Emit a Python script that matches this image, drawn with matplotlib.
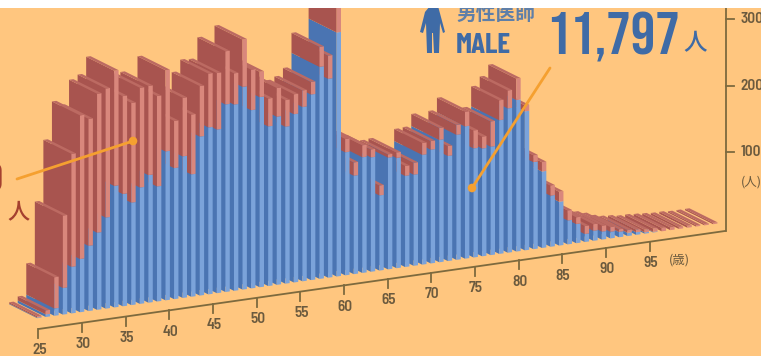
import numpy as np
import matplotlib
matplotlib.use("Agg")
import matplotlib.pyplot as plt
from matplotlib.patches import Rectangle, Circle, Polygon
from matplotlib.transforms import Affine2D

# doctors per single year of age, stacked: male below, male + female on top
ages = list(range(25, 105))
male = [1, 4, 11, 40, 70, 80, 98, 116, 137, 183,
        169, 154, 175, 192, 173, 224, 197, 213, 184, 239,
        251, 246, 282, 280, 305, 268, 286, 240, 253, 236,
        253, 262, 279, 319, 299, 367, 185, 148, 174, 172,
        113, 168, 166, 137, 137, 165, 171, 184, 158, 188,
        199, 164, 162, 163, 201, 217, 228, 209, 131, 115,
        77, 66, 36, 29, 12, 15, 12, 10, 8, 5,
        4, 2, 1, 0, 0, 0, 0, 0, 0, 0]
total = [3, 10, 58, 149, 240, 296, 289, 325, 331, 356,
         316, 304, 325, 326, 309, 346, 268, 301, 274, 315,
         332, 331, 362, 327, 376, 329, 324, 282, 296, 276,
         283, 287, 298, 349, 334, 420, 205, 168, 192, 184,
         128, 173, 174, 152, 155, 183, 184, 202, 173, 203,
         221, 191, 180, 201, 231, 244, 260, 218, 141, 129,
         92, 81, 51, 39, 24, 25, 21, 17, 12, 9,
         8, 6, 6, 5, 4, 3, 3, 2, 2, 2]
age_ticks = [25, 30, 35, 40, 45, 50, 55, 60, 65, 70, 75, 80, 85, 90, 95]
count_ticks = [100, 200, 300]

BG = "#FFC67F"
BLUE_SIDE, BLUE_FRONT = "#4A74B2", "#7BA3DA"
RED_SIDE, RED_FRONT, RED_TOP = "#A8544F", "#D9877C", "#BC6A62"
INK = "#6B5A3E"
AXIS = "#7D6A3E"
MALE_INK = "#3F6BA6"
LEADER = "#F5A030"
NARROW = ["Barlow Condensed", "Roboto", "DejaVu Sans"]
SEMI = ["Barlow Semi Condensed", "Roboto", "DejaVu Sans"]
TALL = ["Bebas Neue", "Roboto", "DejaVu Sans"]
CJK = ["Noto Sans CJK JP", "DejaVu Sans"]

# oblique projection of the slabs, in data units (age, count)
BAR_STEP = 0.98
BAR_W = 0.5
DEPTH_X, DEPTH_Y = -3.21, 21.0
BAR_SLANT = 1.826
AXIS_SLANT = 1.874
AXIS_DROP = -16.5
TICK_LEN = 13.5
WALL_BASE = 103.7
WALL_ZERO = 149.6


def project(pos, val, depth=0.0):
    return pos + depth * DEPTH_X, val + BAR_SLANT * (pos - 25) + depth * DEPTH_Y


def axis_y(pos):
    return AXIS_DROP + AXIS_SLANT * (pos - 25)


def slab(ax, pos, low, high, side, front, top=None):
    l, r = pos - BAR_W / 2, pos + BAR_W / 2
    corners = [project(l, low), project(l, high), project(l, high, 1), project(l, low, 1)]
    ax.fill(*zip(*corners), color=side, lw=0)
    corners = [project(l, low), project(r, low), project(r, high), project(l, high)]
    ax.fill(*zip(*corners), color=front, lw=0)
    if top:
        corners = [project(l, high), project(r, high), project(r, high, 1), project(l, high, 1)]
        ax.fill(*zip(*corners), color=top, lw=0)


fig = plt.figure(figsize=(7.61, 3.56), dpi=100, facecolor="white")
ax = fig.add_axes([0, 0, 1, 1], facecolor=BG)
ax.set_xlim(20.59, 107.76)
ax.set_ylim(-57.1, 478.2)
ax.set_xticks([])
ax.set_yticks([])
for s in ax.spines.values():
    s.set_visible(False)

# pixel-like frame for the labels and the pictogram
frame = Affine2D().scale(1 / 761, -1 / 356).translate(0, 1) + ax.transAxes

# oldest first, so younger slabs overlap the ones behind them
for age, m, t in reversed(list(zip(ages, male, total))):
    pos = 30 + BAR_STEP * (age - 30)
    slab(ax, pos, 0, m, BLUE_SIDE, BLUE_FRONT)
    slab(ax, pos, m, t, RED_SIDE, RED_FRONT, RED_TOP)

# floor axis with age ticks
ax.plot([25, WALL_BASE], [axis_y(25), axis_y(WALL_BASE)], color=AXIS, lw=1.3, solid_capstyle="round")
for t in age_ticks:
    ax.plot([t, t], [axis_y(t), axis_y(t) - TICK_LEN], color=AXIS, lw=1.3)
    ax.text(t + 0.1, axis_y(t) - 32, str(t), ha="center", va="center", color=INK,
            family=SEMI, weight=600, fontsize=11)
ax.text(95 + 3.4, axis_y(95) - 28, "(歳)", ha="center", va="center", color=INK, family=CJK, fontsize=9)

# upright count axis at the back of the floor
ax.plot([WALL_BASE, WALL_BASE], [axis_y(WALL_BASE), 480], color=AXIS, lw=1.3)
for c in count_ticks:
    ax.plot([WALL_BASE, WALL_BASE + 1], [WALL_ZERO + c, WALL_ZERO + c], color=AXIS, lw=1.3)
    ax.text(WALL_BASE + 1.75, WALL_ZERO + c, str(c), ha="left", va="center", color=INK,
            family=SEMI, weight=600, fontsize=11)
ax.text(WALL_BASE + 1.7, WALL_ZERO + 100 - 45, "(人)", ha="left", va="center", color=INK, family=CJK, fontsize=9)

# leader lines
ax.plot([17, 133], [179, 141], color=LEADER, lw=2, transform=frame, solid_capstyle="round")
ax.add_patch(Circle((133, 141), 4.3, color=LEADER, transform=frame, lw=0))
ax.plot([550, 472], [68, 188], color=LEADER, lw=2, transform=frame, solid_capstyle="round")
ax.add_patch(Circle((472, 188), 4.3, color=LEADER, transform=frame, lw=0))

# male headline block
figure_pts = [(430, 6), (438, 6), (445, 32), (443, 33), (440, 23), (439, 53), (434, 53), (433, 33),
              (432, 33), (432, 53), (427, 53), (426, 23), (423, 33), (420, 32), (425, 12)]
ax.add_patch(Polygon(figure_pts, closed=True, color=MALE_INK, lw=0, transform=frame))
ax.text(456, 14, "男性医師", color="#5F7FA8", family=CJK, weight="bold", fontsize=14.2,
        ha="left", va="center", transform=frame)
ax.text(456, 53, "MALE", color=MALE_INK, family=NARROW, weight="bold", fontsize=21,
        ha="left", va="baseline", transform=frame)
ax.text(546, 54, "11,797", color=MALE_INK, family=TALL, weight="bold", fontsize=44,
        ha="left", va="baseline", transform=frame)
ax.text(695, 44, "人", color=MALE_INK, family=CJK, weight="medium", fontsize=17, ha="center", va="center", transform=frame)

# female total, running off the left edge
ax.text(3, 181, "0", color="#A5402F", family=NARROW, weight="bold", fontsize=30,
        ha="right", va="center", transform=frame)
ax.text(19, 212, "人", color="#A5402F", family=CJK, weight="medium", fontsize=16, ha="center", va="center", transform=frame)

ax.add_patch(Rectangle((0, 0), 761, 8, color="white", lw=0, transform=frame, zorder=20))

fig.savefig("out.png", dpi=100)
